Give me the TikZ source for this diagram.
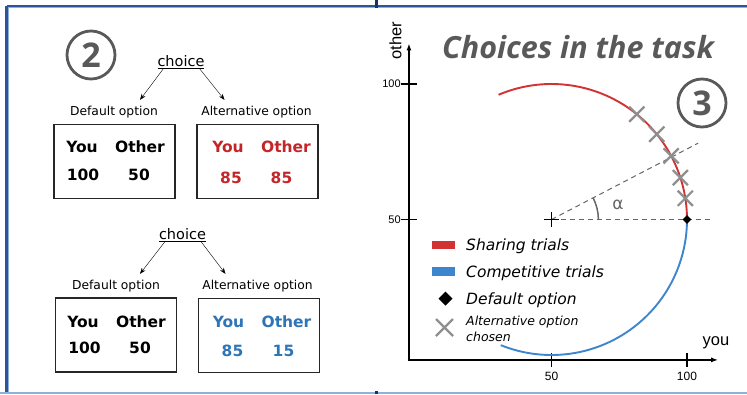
\documentclass[tikz,border=0pt]{standalone}
\usepackage{fontspec}
\setmainfont{DejaVu Sans}
\newfontfamily\titlefont{Open Sans}
\newfontfamily\axisfont{Liberation Sans}
\usepackage{tikz}
\usetikzlibrary{arrows.meta}
\definecolor{frameblue}{rgb}{0.17, 0.33, 0.60}
\definecolor{framelight}{rgb}{0.56, 0.69, 0.86}
\definecolor{framedark}{rgb}{0.08, 0.20, 0.42}
\definecolor{sharered}{rgb}{0.82, 0.20, 0.20}
\definecolor{competeblue}{rgb}{0.24, 0.52, 0.80}
\definecolor{textred}{rgb}{0.76, 0.15, 0.16}
\definecolor{textblue}{rgb}{0.18, 0.46, 0.72}
\definecolor{markgray}{rgb}{0.56, 0.56, 0.56}
\definecolor{titlegray}{rgb}{0.35, 0.35, 0.35}

\begin{document}
\begin{tikzpicture}[x=1pt,y=-1pt]
	\tikzstyle{axisarrow} = [-{Latex[length=7pt,width=5pt]}]
	\tikzstyle{choicearrow} = [-{Stealth[length=6pt,width=4.5pt]}]
	\tikzstyle{optionbox} = [draw=black!85, line width=1.3pt, minimum width=121pt, minimum height=74pt, inner sep=0pt]
	\tikzstyle{optionlabel} = [inner sep=0pt, font=\fontsize{12.3}{14}\selectfont]
	\tikzstyle{choicelabel} = [inner sep=0pt, font=\fontsize{14.5}{16}\selectfont]
	\tikzstyle{payoff} = [inner sep=0pt, font=\fontsize{15.5}{18}\selectfont\bfseries]
	\tikzstyle{circnum} = [circle, draw=titlegray, line width=2.8pt, minimum size=48pt, inner sep=0pt, text=titlegray, font=\titlefont\fontsize{34}{36}\selectfont\bfseries]
	\tikzstyle{altmark} = [markgray, line width=2.2pt]
	\tikzstyle{legendtext} = [anchor=base west, inner sep=0pt, font=\fontsize{15.5}{18}\selectfont\itshape]

	\useasboundingbox (0,0) rectangle (747,394);

	% Draw the frame
	\draw[frameblue, line width=2.6pt] (6.5,5.8) -- (747,5.8);
	\draw[frameblue, line width=2.6pt] (6.5,5.8) -- (6.5,394);
	\draw[framelight, line width=0.7pt] (8,7.2) -- (747,7.2);
	\draw[framelight, line width=0.7pt] (8,7.2) -- (8,394);
	\draw[framelight, line width=2pt] (0,392.6) -- (747,392.6);
	\fill[framedark] (375,0) rectangle (378,7.5);
	\fill[framedark] (375,391) rectangle (378,394);

	% Circled numbers and title
	\node[circnum] (num2) at (91,55) {2};
	\node[circnum] (num3) at (702,103) {3};
	\node[anchor=base, text=titlegray, font=\titlefont\fontsize{30.5}{33}\selectfont\bfseries\itshape] (title) at (578,58) {Choices in the task};

	% Sharing choice
	\node[choicelabel] (choice1) at (181,62) {\underline{choice}};
	\node[optionlabel] (defl1) at (114,112) {Default option};
	\node[optionlabel] (altl1) at (256.5,112) {Alternative option};
	\draw[choicearrow] ([xshift=6pt]choice1.south west) -- ([xshift=26pt,yshift=6pt]defl1.north);
	\draw[choicearrow] ([xshift=-5pt]choice1.south east) -- ([xshift=-32pt,yshift=6pt]altl1.north);
	\node[optionbox] (defbox1) at (114.5,161.5) {};
	\node[optionbox] (altbox1) at (257.5,161.5) {};
	\node[payoff] (defyou1) at (82,147) {You};
	\node[payoff] (defoth1) at (140,147) {Other};
	\node[payoff] (defv1) at (83,175) {100};
	\node[payoff] (defw1) at (139,175) {50};
	\node[payoff, text=textred] (altyou1) at (228,147) {You};
	\node[payoff, text=textred] (altoth1) at (286,147) {Other};
	\node[payoff, text=textred] (altv1) at (231,178) {85};
	\node[payoff, text=textred] (altw1) at (281.5,178) {85};

	% Competitive choice
	\node[choicelabel] (choice2) at (182.5,235) {\underline{choice}};
	\node[optionlabel] (defl2) at (116,286) {Default option};
	\node[optionlabel] (altl2) at (257.5,286) {Alternative option};
	\draw[choicearrow] ([xshift=6pt]choice2.south west) -- ([xshift=24pt,yshift=6pt]defl2.north);
	\draw[choicearrow] ([xshift=-5pt]choice2.south east) -- ([xshift=-32pt,yshift=6pt]altl2.north);
	\node[optionbox] (defbox2) at (116,335) {};
	\node[optionbox] (altbox2) at (259,335.5) {};
	\node[payoff] (defyou2) at (83,321.5) {You};
	\node[payoff] (defoth2) at (141,321.5) {Other};
	\node[payoff] (defv2) at (84.5,347.5) {100};
	\node[payoff] (defw2) at (140,347.5) {50};
	\node[payoff, text=textblue] (altyou2) at (228.5,321.5) {You};
	\node[payoff, text=textblue] (altoth2) at (286.5,321.5) {Other};
	\node[payoff, text=textblue] (altv2) at (232.5,351) {85};
	\node[payoff, text=textblue] (altw2) at (283.5,351) {15};

	% Draw the plot
	\begin{scope}[shift={(416,355)}, x=2.71pt, y=2.71pt]
		% Draw Axes
		\draw[line width=1.4pt, axisarrow] (-2.6,-1.8) -- (-2.6,115);
		\draw[line width=1.4pt, axisarrow] (-3.1,-1.8) -- (111.5,-1.8);
		\foreach \v in {50,100}
		{
			\draw[line width=1.4pt] (\v,-4.4) -- (\v,0.8);
			\node[font=\axisfont\fontsize{12}{14}\selectfont] at (\v,-8) {\v};
			\draw[line width=1.4pt] (-5.6,\v) -- (0.2,\v);
			\node[anchor=east, inner sep=0pt, font=\axisfont\fontsize{11}{13}\selectfont] at (-5.6,\v) {\v};
		}
		\node[rotate=90, font=\axisfont\fontsize{16.5}{18}\selectfont] (othlab) at (-7.6,115.9) {other};
		\node[font=\axisfont\fontsize{16.5}{18}\selectfont] (youlab) at (110.7,4.4) {you};

		% Dashed guides and angle
		\draw[black!60, line width=1pt, dash pattern=on 5pt off 4pt] (50,50) -- (109.5,50);
		\draw[black!60, line width=1pt, dash pattern=on 5pt off 4pt] (50,50) -- ++(27.5:61);
		\draw[black!60, line width=1.5pt] (67.3,50) arc[start angle=0, end angle=27.5, radius=17.3];
		\node[text=black!60, font=\fontsize{17}{18}\selectfont] (alpha) at (74.5,55.5) {α};
		\draw[line width=1.2pt] (47.2,50) -- (52.8,50) (50,47.2) -- (50,52.8);

		% Arcs of options
		\draw[sharered, line width=1.9pt] (100,50) arc[start angle=0, end angle=113, radius=50];
		\draw[competeblue, line width=1.9pt] (100,50) arc[start angle=0, end angle=-112, radius=50];

		% Chosen alternatives
		\foreach \a in {9,18,28,39,51}
		{
			\draw[altmark] (50,50) ++(\a:50) +(-2.8,-2.8) -- +(2.8,2.8) +(-2.8,2.8) -- +(2.8,-2.8);
		}
		\fill (98.4,50) -- (100,51.6) -- (101.6,50) -- (100,48.4) -- cycle;
	\end{scope}

	% Legend
	\fill[sharered] (432,240.5) rectangle (455,248.5);
	\fill[competeblue] (432,267) rectangle (455,276);
	\fill (438.5,298.5) -- (445.5,291.5) -- (452.5,298.5) -- (445.5,305.5) -- cycle;
	\draw[altmark] (436,319) -- (453,336) (436,336) -- (453,319);
	\node[legendtext] (legshare) at (466,250) {Sharing trials};
	\node[legendtext] (legcomp) at (466,277) {Competitive trials};
	\node[legendtext] (legdef) at (466,304) {Default option};
	\node[legendtext, font=\fontsize{12.5}{14}\selectfont\itshape] (legalt) at (466,325) {Alternative option};
	\node[legendtext, font=\fontsize{12.5}{14}\selectfont\itshape] (legalt2) at (466,341) {chosen};
\end{tikzpicture}
\end{document}
